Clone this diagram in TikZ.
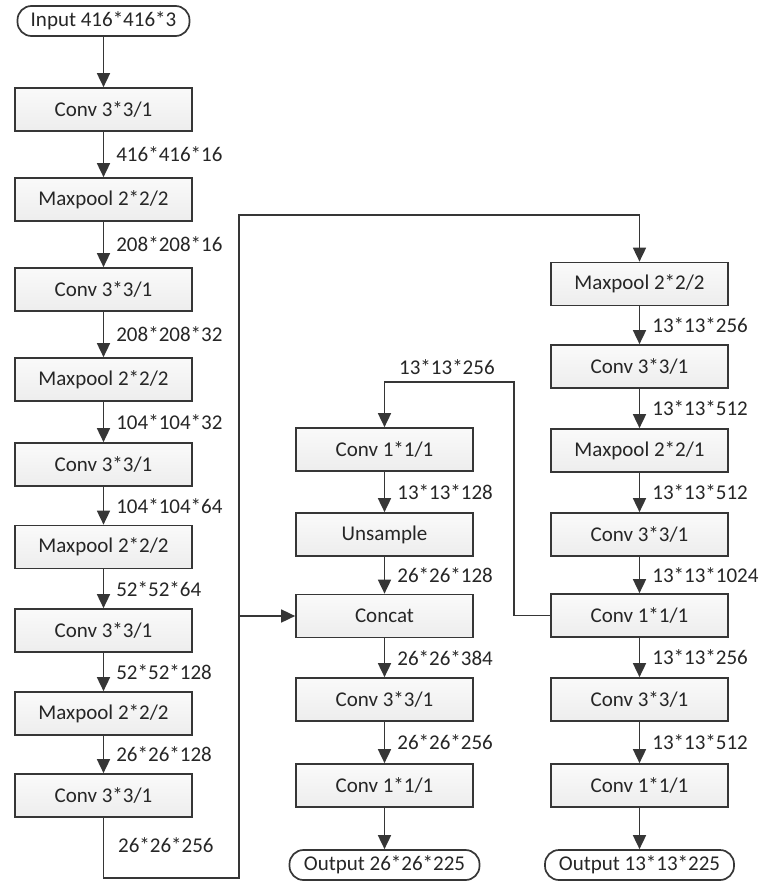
\documentclass[tikz,border=0pt]{standalone}
\usepackage{fontspec}
\setmainfont{Carlito}
\usetikzlibrary{arrows.meta}
\definecolor{ln}{HTML}{363636}
\tikzset{
  blk/.style={draw=ln, line width=1.7pt, top color=gray!4, bottom color=gray!14, minimum width=177pt, minimum height=43pt, inner sep=0pt, font=\fontsize{21}{25}\selectfont, text=black!85},
  term/.style={draw=ln, line width=1.7pt, fill=white, rounded corners=14pt, minimum height=30pt, inner sep=0pt, font=\fontsize{21}{25}\selectfont, text=black!85},
  arr/.style={draw=ln, line width=1.7pt, -{Triangle[width=13pt,length=14pt]}},
  lab/.style={anchor=west, inner sep=0pt, font=\fontsize{21}{25}\selectfont, text=black!85}
}
\begin{document}
\begin{tikzpicture}[x=1pt,y=-1pt]
\useasboundingbox (0,0) rectangle (760,881);
% left column
\node[term, minimum width=172pt] (in) at (103.5,21) {Input 416*416*3};
\node[blk] (L1) at (103.5,109.5) {Conv 3*3/1};
\node[blk] (L2) at (103.5,199.5) {Maxpool 2*2/2};
\node[blk] (L3) at (103.5,289.5) {Conv 3*3/1};
\node[blk] (L4) at (103.5,379.5) {Maxpool 2*2/2};
\node[blk] (L5) at (103.5,464.5) {Conv 3*3/1};
\node[blk] (L6) at (103.5,547) {Maxpool 2*2/2};
\node[blk] (L7) at (103.5,630.5) {Conv 3*3/1};
\node[blk] (L8) at (103.5,713.5) {Maxpool 2*2/2};
\node[blk] (L9) at (103.5,795.5) {Conv 3*3/1};
% middle column
\node[blk] (M1) at (384.5,449.5) {Conv 1*1/1};
\node[blk] (M2) at (384.5,534.5) {Unsample};
\node[blk] (M3) at (384.5,616) {Concat};
\node[blk] (M4) at (384.5,699.5) {Conv 3*3/1};
\node[blk] (M5) at (384.5,785.5) {Conv 1*1/1};
\node[term, minimum width=190pt] (o1) at (384.5,865) {Output 26*26*225};
% right column
\node[blk] (R1) at (639.5,284) {Maxpool 2*2/2};
\node[blk] (R2) at (639.5,366.5) {Conv 3*3/1};
\node[blk] (R3) at (639.5,450.5) {Maxpool 2*2/1};
\node[blk] (R4) at (639.5,534.5) {Conv 3*3/1};
\node[blk] (R5) at (639.5,615.5) {Conv 1*1/1};
\node[blk] (R6) at (639.5,699.5) {Conv 3*3/1};
\node[blk] (R7) at (639.5,785.5) {Conv 1*1/1};
\node[term, minimum width=189pt] (o2) at (639.5,865) {Output 13*13*225};
% left arrows
\draw[arr] (in) -- (L1);
\draw[arr] (L1) -- node[lab, xshift=12pt]{416*416*16} (L2);
\draw[arr] (L2) -- node[lab, xshift=12pt]{208*208*16} (L3);
\draw[arr] (L3) -- node[lab, xshift=12pt]{208*208*32} (L4);
\draw[arr] (L4) -- node[lab, xshift=12pt]{104*104*32} (L5);
\draw[arr] (L5) -- node[lab, xshift=12pt]{104*104*64} (L6);
\draw[arr] (L6) -- node[lab, xshift=12pt]{52*52*64} (L7);
\draw[arr] (L7) -- node[lab, xshift=12pt]{52*52*128} (L8);
\draw[arr] (L8) -- node[lab, xshift=12pt]{26*26*128} (L9);
% middle arrows
\draw[arr] (M1) -- node[lab, xshift=12pt]{13*13*128} (M2);
\draw[arr] (M2) -- node[lab, xshift=12pt]{26*26*128} (M3);
\draw[arr] (M3) -- node[lab, xshift=12pt]{26*26*384} (M4);
\draw[arr] (M4) -- node[lab, xshift=12pt]{26*26*256} (M5);
\draw[arr] (M5) -- (o1);
% right arrows
\draw[arr] (R1) -- node[lab, xshift=12pt]{13*13*256} (R2);
\draw[arr] (R2) -- node[lab, xshift=12pt]{13*13*512} (R3);
\draw[arr] (R3) -- node[lab, xshift=12pt]{13*13*512} (R4);
\draw[arr] (R4) -- node[lab, xshift=12pt]{13*13*1024} (R5);
\draw[arr] (R5) -- node[lab, xshift=12pt]{13*13*256} (R6);
\draw[arr] (R6) -- node[lab, xshift=12pt]{13*13*512} (R7);
\draw[arr] (R7) -- (o2);
% skip from left bottom
\coordinate (bl) at (103.5,878);
\coordinate (br) at (239,878);
\coordinate (tr) at (239,215);
\draw[arr] (L9.south) -- (bl) -- (br) -- (tr) -| (R1.north);
\draw[arr] (br |- M3.west) -- (M3.west);
\node[lab] at (118,845) {26*26*256};
% route from right conv 1x1 to middle
\coordinate (k1) at (514,382);
\draw[arr] (R5.west) -| (k1) -| (M1.north);
\node[lab] at (399,367) {13*13*256};
\end{tikzpicture}
\end{document}
